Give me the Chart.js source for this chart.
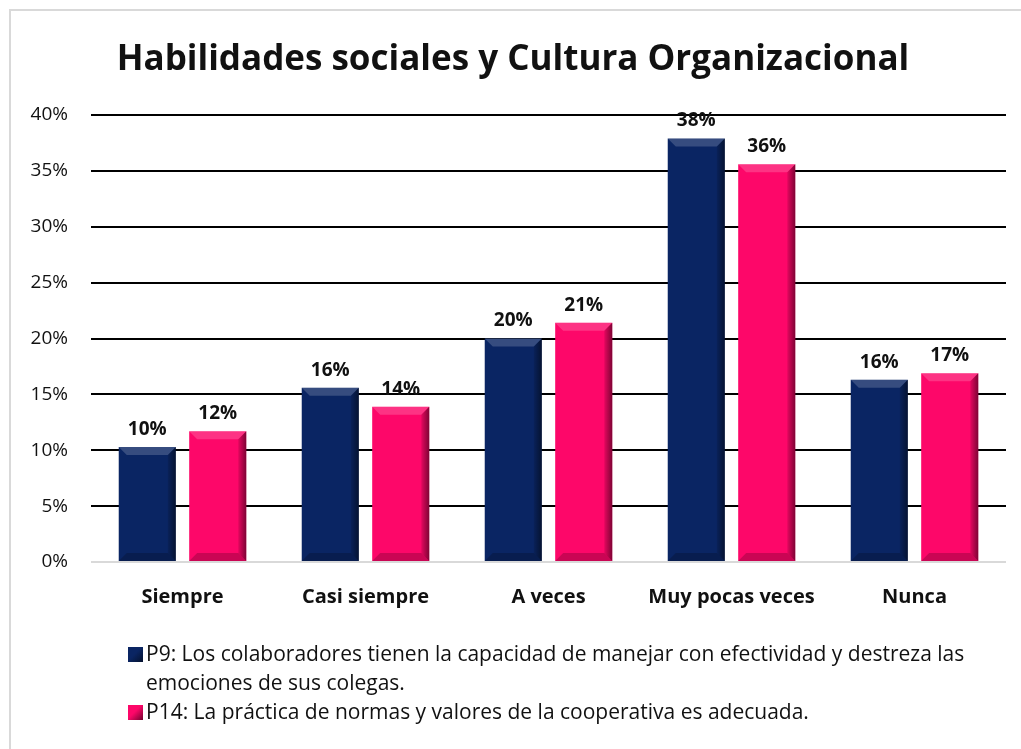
<!DOCTYPE html>
<html>
<head>
<meta charset="utf-8">
<script src="https://cdn.jsdelivr.net/npm/chart.js@4/dist/chart.umd.min.js"></script>
<style>
  body { margin: 0; background: #fff; }
  #wrap { position: relative; width: 1021px; height: 749px; overflow: hidden; }
  #frame { position: absolute; left: 9px; top: 9px; width: 1030px; height: 760px;
           border-left: 2px solid #d9d9d9; border-top: 2px solid #d9d9d9; }
  #legend { position: absolute; left: 128px; top: 639px; width: 860px;
            font-family: "Open Sans", "Noto Sans", sans-serif; font-size: 21px;
            line-height: 29px; color: #111; }
  .item { position: relative; padding-left: 18px; }
  .box { position: absolute; left: 0; top: 8px; width: 15px; height: 15px; }
</style>
</head>
<body>
<div id="wrap">
  <div id="frame"></div>
  <canvas id="c" width="1021" height="749"></canvas>
  <div id="legend"></div>
</div>
<script>
const categories = ['Siempre', 'Casi siempre', 'A veces', 'Muy pocas veces', 'Nunca'];
const p9Values = [10.3, 15.6, 20.0, 37.9, 16.3];
const p14Values = [11.7, 13.9, 21.4, 35.6, 16.9];
const seriesNames = [
  'P9: Los colaboradores tienen la capacidad de manejar con efectividad y destreza las emociones de sus colegas.',
  'P14: La práctica de normas y valores de la cooperativa es adecuada.'
];
const yTicks = [0, 5, 10, 15, 20, 25, 30, 35, 40];

const colors = ['#0a2563', '#fd0769'];
const font = '"Open Sans", "Noto Sans", sans-serif';

// bevel look like the excel bars
const bevel = {
  id: 'bevel',
  afterDatasetsDraw(chart) {
    const ctx = chart.ctx;
    chart.data.datasets.forEach((ds, i) => {
      chart.getDatasetMeta(i).data.forEach(bar => {
        const l = bar.x - bar.width / 2, r = bar.x + bar.width / 2;
        const t = bar.y, b = bar.base, d = 8;
        ctx.save();
        // top light
        ctx.fillStyle = 'rgba(255,255,255,0.18)';
        ctx.beginPath();
        ctx.moveTo(l, t); ctx.lineTo(r, t); ctx.lineTo(r - d, t + d); ctx.lineTo(l + d, t + d);
        ctx.fill();
        // right dark
        const g = ctx.createLinearGradient(r - d, 0, r, 0);
        g.addColorStop(0, 'rgba(0,0,0,0.1)');
        g.addColorStop(1, 'rgba(0,0,0,0.5)');
        ctx.fillStyle = g;
        ctx.beginPath();
        ctx.moveTo(r, t); ctx.lineTo(r, b); ctx.lineTo(r - d, b - d); ctx.lineTo(r - d, t + d);
        ctx.fill();
        // bottom dark
        ctx.fillStyle = 'rgba(0,0,0,0.2)';
        ctx.beginPath();
        ctx.moveTo(l, b); ctx.lineTo(r, b); ctx.lineTo(r - d, b - d); ctx.lineTo(l + d, b - d);
        ctx.fill();
        ctx.restore();
      });
    });
  }
};

const valueLabels = {
  id: 'valueLabels',
  afterDatasetsDraw(chart) {
    const ctx = chart.ctx;
    ctx.save();
    ctx.font = 'bold 19px ' + font;
    ctx.fillStyle = '#111';
    ctx.textAlign = 'center';
    ctx.textBaseline = 'bottom';
    chart.data.datasets.forEach((ds, i) => {
      chart.getDatasetMeta(i).data.forEach((bar, j) => {
        ctx.fillText(Math.round(ds.data[j]) + '%', bar.x, bar.y - 8);
      });
    });
    ctx.restore();
  }
};

new Chart(document.getElementById('c'), {
  type: 'bar',
  data: {
    labels: categories,
    datasets: [
      { label: seriesNames[0], data: p9Values, backgroundColor: colors[0] },
      { label: seriesNames[1], data: p14Values, backgroundColor: colors[1] }
    ]
  },
  options: {
    responsive: false,
    animation: false,
    layout: { padding: { left: 20, right: 15, bottom: 127 } },
    datasets: { bar: { categoryPercentage: 0.77, barPercentage: 0.81 } },
    plugins: {
      legend: { display: false },
      tooltip: { enabled: false },
      title: {
        display: true,
        text: 'Habilidades sociales y Cultura Organizacional',
        color: '#111',
        font: { family: font, size: 35, weight: 'bold' },
        padding: { top: 39, bottom: 34 }
      }
    },
    scales: {
      x: {
        grid: { display: false },
        border: { display: false },
        afterFit(s) { s.height = 60; },
        ticks: { color: '#111', padding: 15, font: { family: font, size: 20, weight: 'bold' } }
      },
      y: {
        min: 0, max: 40,
        afterFit(s) { s.width = 71; },
        afterBuildTicks(s) { s.ticks = yTicks.map(v => ({ value: v })); },
        border: { display: false },
        grid: {
          drawTicks: false,
          lineWidth: 2,
          color: c => c.tick && c.tick.value === 0 ? '#d9d9d9' : '#000'
        },
        ticks: {
          color: '#111', padding: 23,
          font: { family: font, size: 19 },
          callback: v => v + '%'
        }
      }
    }
  },
  plugins: [bevel, valueLabels]
});

const legend = document.getElementById('legend');
seriesNames.forEach((name, i) => {
  const item = document.createElement('div');
  item.className = 'item';
  const box = document.createElement('span');
  box.className = 'box';
  box.style.background = 'linear-gradient(135deg, ' + colors[i] + ' 45%, rgba(0,0,0,0.55) 100%), ' + colors[i];
  item.appendChild(box);
  item.appendChild(document.createTextNode(name));
  legend.appendChild(item);
});
</script>
</body>
</html>
